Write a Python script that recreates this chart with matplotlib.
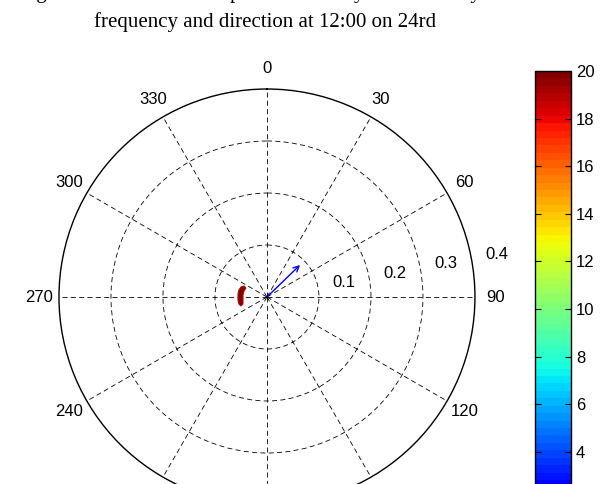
import numpy as np
import matplotlib
matplotlib.use('Agg')
import matplotlib.pyplot as plt
from matplotlib.colors import Normalize
from matplotlib.cm import ScalarMappable

# Datos del espectro direccional
title_top = 'Fig. 7 Directional wave spectrum density calculated by the'
title_bottom = 'frequency and direction at 12:00 on 24rd'

r_ticks = [0.1, 0.2, 0.3, 0.4]
theta_ticks = list(range(0, 360, 30))
# las etiquetas 150, 180 y 210 quedan fuera del area recortada
theta_labels = ['' if t in (150, 180, 210) else str(t) for t in theta_ticks]

# Contorno del pico del espectro (direccion [deg], frecuencia)
peak_dir = [295.6, 291, 284, 276, 264, 256, 251, 254, 263, 275, 285, 293]
peak_freq = [0.049, 0.0536, 0.0555, 0.056, 0.056, 0.0555, 0.0529, 0.048, 0.0465, 0.0463, 0.0457, 0.044]
peak_val = 20.0

# Direccion media (flecha)
mean_dir = [45.9]
mean_freq = [0.0885]

c_min, c_max = 0, 20
cbar_ticks = [4, 6, 8, 10, 12, 14, 16, 18, 20]

# Figura ================================================================
fig = plt.figure(figsize=(6.0, 4.84), dpi=100)
sans = 'Liberation Sans'
serif = 'Liberation Serif'

cmap = plt.get_cmap('jet', 64)
norm = Normalize(c_min, c_max)

ax = fig.add_axes([0.0983, -0.0434, 0.6933, 0.8595], projection='polar')
ax.set_theta_zero_location('N')
ax.set_theta_direction(-1)
ax.set_ylim(0, 0.4)

ax.set_thetagrids(theta_ticks, theta_labels, fontfamily=sans, fontsize=12)
ax.tick_params(axis='x', pad=4)
ax.set_rticks(r_ticks[:-1])
ax.set_yticklabels([])
ax.grid(True, color='black', linestyle=(0, (6, 4)), linewidth=0.6)
ax.spines['polar'].set_color('black')
ax.spines['polar'].set_linewidth(1.0)

for r in r_ticks:
    ax.text(np.deg2rad(79.5), r + 0.05, '%.1f' % r, fontfamily=sans,
            fontsize=12, ha='center', va='center')

# pico del espectro
ax.fill(np.deg2rad(peak_dir), peak_freq, color=cmap(norm(peak_val)),
        edgecolor=cmap(norm(peak_val - 1)), linewidth=0.8, zorder=3)

# flecha de direccion media
for d, f in zip(mean_dir, mean_freq):
    ax.annotate('', xy=(np.deg2rad(d), f), xytext=(0, 0),
                arrowprops=dict(arrowstyle='->', color='blue', lw=1.0,
                                shrinkA=0, shrinkB=0, mutation_scale=10),
                zorder=4)

# titulo en dos lineas (la primera queda casi fuera de la figura)
fig.text(0.4417, 1 + 2 / 484, title_top, fontfamily=serif, fontsize=15,
         ha='center', va='baseline')
fig.text(0.4417, 1 - 27 / 484, title_bottom, fontfamily=serif, fontsize=15,
         ha='center', va='baseline')

# barra de colores
cax = fig.add_axes([0.8917, -0.1302, 0.06, 0.9835])
sm = ScalarMappable(norm=norm, cmap=cmap)
cb = fig.colorbar(sm, cax=cax, ticks=cbar_ticks)
cb.outline.set_linewidth(1.0)
cax.tick_params(direction='in', left=True, right=True, length=4, width=0.8,
                labelsize=12)
for lab in cax.get_yticklabels():
    lab.set_fontfamily(sans)

fig.savefig('out.png', dpi=100)
